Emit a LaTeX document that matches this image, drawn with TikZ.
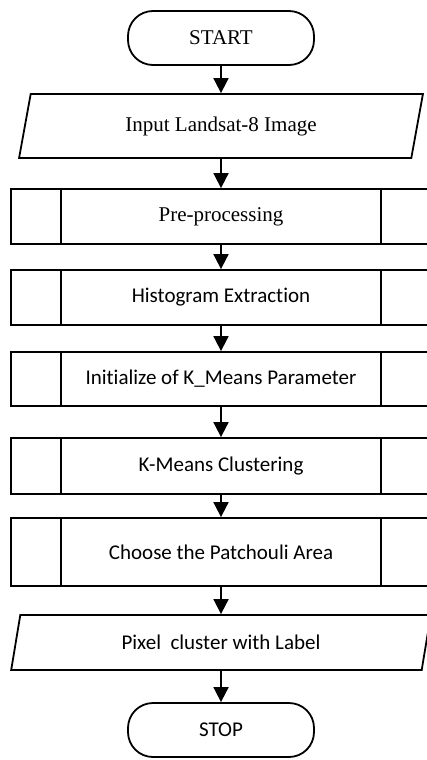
\documentclass[tikz,border=0pt]{standalone}
\usepackage{fontspec}
\setmainfont{Liberation Serif}
\newfontfamily\calibri[Ligatures=NoCommon]{Carlito}
\usetikzlibrary{arrows.meta,shapes.geometric}

\begin{document}
\begin{tikzpicture}[x=1pt,y=-1pt,
  every node/.style={inner sep=0pt, font=\fontsize{21}{24}\selectfont},
  line/.style={line width=1.8pt},
  terminal/.style={line, draw, rectangle, rounded corners=25pt,
                   minimum width=186pt, minimum height=54pt},
  iobox/.style={line, draw, trapezium, trapezium stretches=true,
                trapezium left angle=73, trapezium right angle=107,
                minimum width=405pt},
  procbox/.style={line, draw, rectangle, minimum width=420pt},
  flow/.style={line, -{Triangle[length=15pt,width=15pt]}},
  cal/.style={font=\calibri\fontsize{21}{24}\selectfont}
]
\useasboundingbox (0,0) rectangle (427,760);

\node[terminal] (start) at (221,38) {START};
\node[iobox, minimum height=64pt] (input) at (221,126) {Input Landsat-8 Image};
\node[procbox, minimum height=55pt] (pre) at (221,216.5) {Pre-processing};
\node[procbox, minimum height=55pt, cal] (hist) at (221,297.5) {Histogram Extraction};
\node[procbox, minimum height=54pt, cal] (init) at (221,379) {Initialize of K\_Means Parameter};
\node[procbox, minimum height=56pt, cal] (kmeans) at (221,466) {K-Means Clustering};
\node[procbox, minimum height=68pt, cal] (choose) at (221,552) {Choose the Patchouli Area};
\node[iobox, minimum height=55pt, minimum width=420pt, cal] (pixel) at (221,642.5) {Pixel\ \ cluster with Label};
\node[terminal, cal] (stop) at (221,730) {STOP};

% inner side bars of the predefined-process boxes
\foreach \b in {pre,hist,init,kmeans,choose} {
  \draw[line] ([xshift=51pt]\b.north west) -- ([xshift=51pt]\b.south west);
  \draw[line] ([xshift=-51pt]\b.north east) -- ([xshift=-51pt]\b.south east);
}

\draw[flow] (start) -- (input);
\draw[flow] (input) -- (pre);
\draw[flow] (pre) -- (hist);
\draw[flow] (hist) -- (init);
\draw[flow] (init) -- (kmeans);
\draw[flow] (kmeans) -- (choose);
\draw[flow] (choose) -- (pixel);
\draw[flow] (pixel) -- (stop);
\end{tikzpicture}
\end{document}
